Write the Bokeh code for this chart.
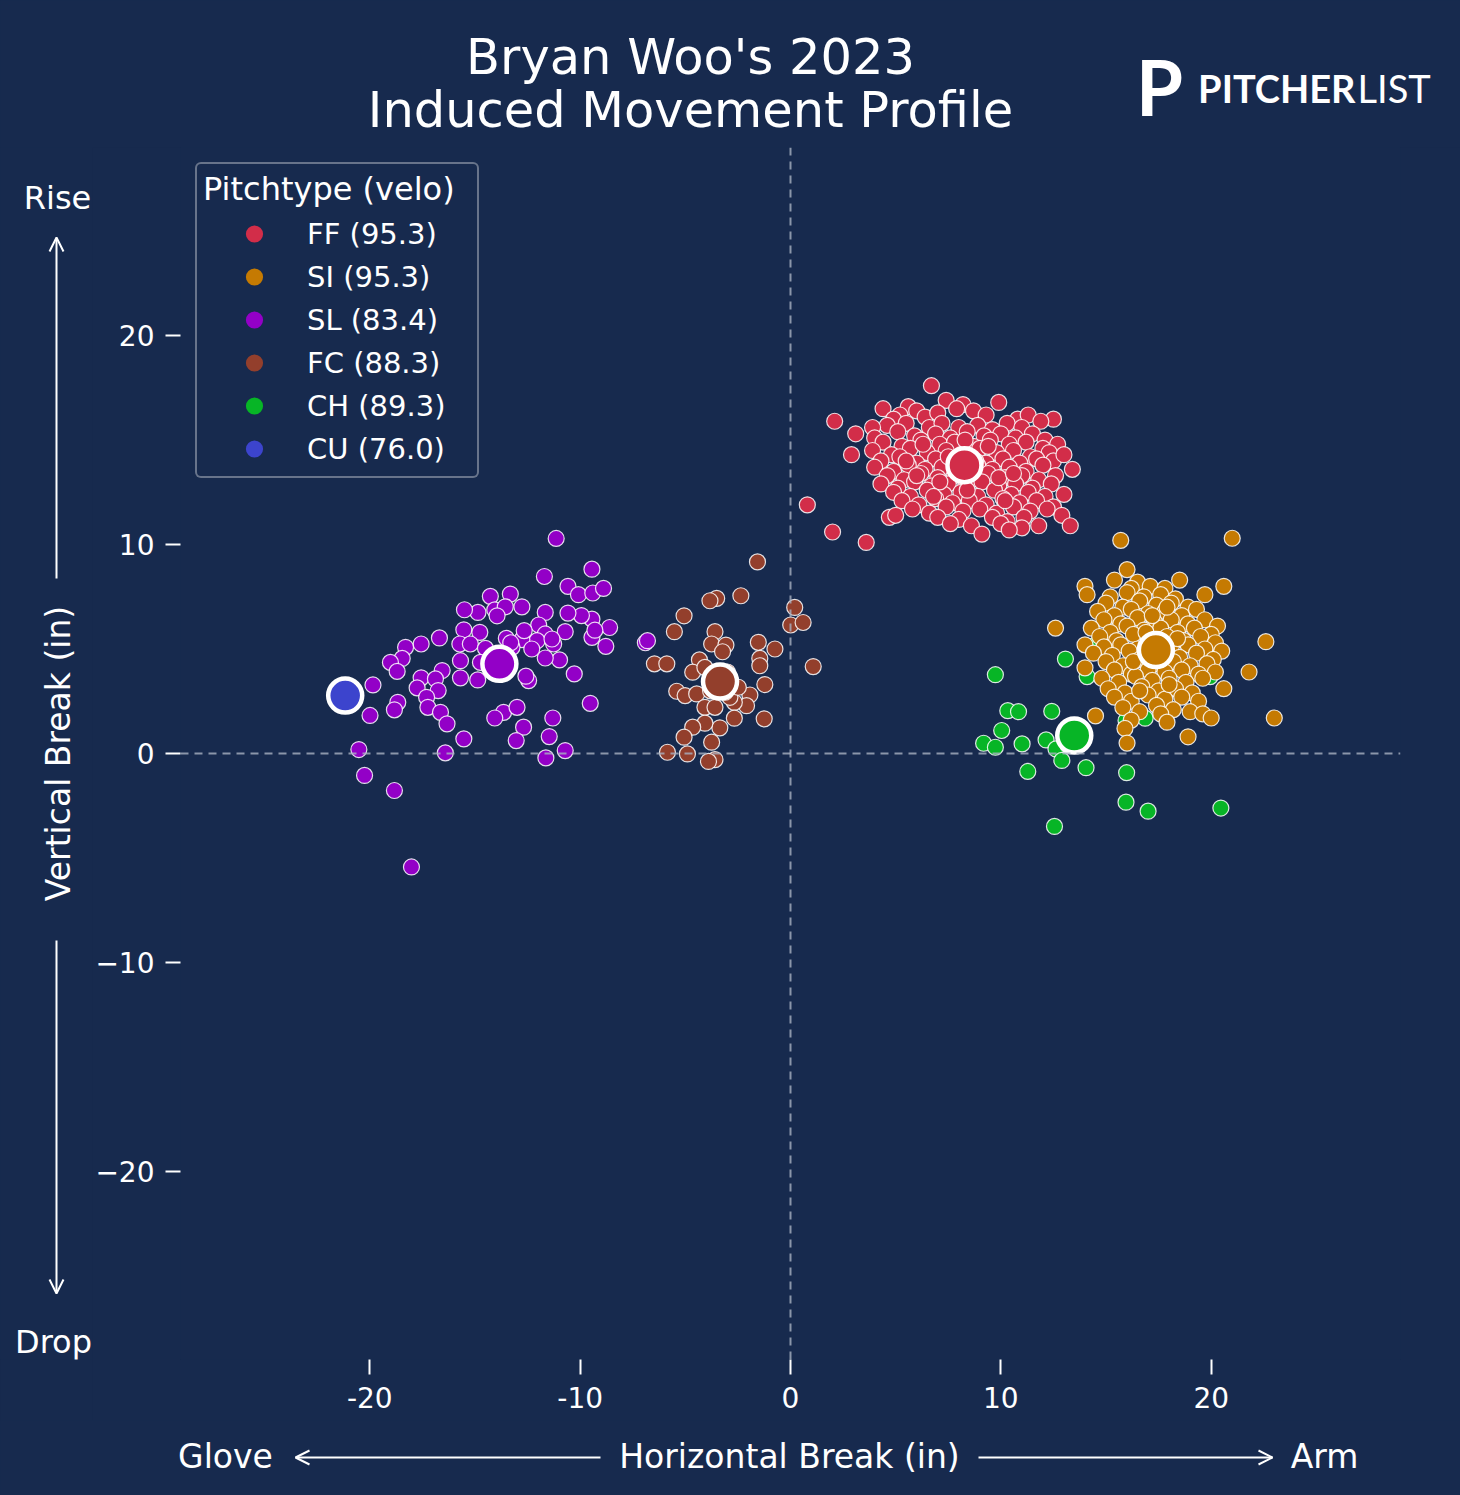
import numpy as np
from bokeh.plotting import figure
from bokeh.layouts import column, row
from bokeh.models import (Span, Label, Arrow, OpenHead, Legend, LegendItem,
                          FixedTicker, Range1d)
from bokeh.embed import file_html
from bokeh.resources import INLINE

BG = "#172a4e"
FONT = "DejaVu Sans"

# ---------------- data (inches) ----------------
ff_x = [6.7, 7.4, 9.9, 8.2, 4.4, 5.6, 6.0, 7.9, 8.7, 5.2, 6.4, 7.0, 9.3, 10.8, 11.3, 12.5, 2.1, 4.9, 11.9,
        4.6, 5.5, 6.6, 7.2, 8.0, 8.9, 9.6, 10.3, 11.0, 3.9,
        3.1, 4.0, 5.1, 5.9, 6.9, 7.6, 8.4, 9.2, 10.0, 10.7, 11.5, 12.1,
        4.4, 5.3, 6.2, 7.1, 7.8, 8.7, 9.5, 10.4, 11.2, 12.0, 12.7,
        3.9, 4.8, 5.7, 6.5, 7.4, 8.1, 9.0, 9.8, 10.6, 11.4, 12.3, 2.9,
        4.3, 5.2, 6.0, 6.9, 7.7, 8.5, 9.3, 10.1, 10.9, 11.7, 12.5, 13.0,
        4.0, 4.9, 5.6, 6.4, 7.2, 8.0, 8.9, 9.6, 10.4, 11.2, 12.0, 13.4,
        4.6, 5.4, 6.2, 7.0, 7.8, 8.6, 9.4, 10.2, 11.0, 11.8, 12.6,
        4.3, 5.1, 5.9, 6.7, 7.5, 8.3, 9.1, 9.9, 10.7, 11.5, 12.4,
        4.9, 5.7, 6.5, 7.3, 8.1, 8.9, 9.7, 10.5, 11.3, 12.1, 13.0,
        5.3, 6.1, 6.9, 7.7, 8.5, 9.3, 10.1, 10.9, 11.7, 12.5,
        5.8, 6.6, 7.4, 8.2, 9.0, 9.8, 10.6, 11.4, 12.2,
        4.7, 5.0, 7.0, 8.0, 9.6, 10.3, 11.1, 12.9,
        7.6, 8.6, 10.0, 11.0, 11.8, 13.3, 9.1, 10.4, 0.8, 2.0, 3.6,
        6.3, 7.5, 8.8, 9.9, 7.1, 8.4, 6.0, 9.4, 10.6, 5.5, 7.9, 8.3, 6.8, 10.2]
ff_y = [17.6, 16.9, 16.8, 16.7, 16.5, 16.6, 16.4, 16.5, 16.4, 16.2, 16.1, 16.3, 16.2, 16.0, 16.2, 16.0, 15.9, 16.0, 15.9,
        15.7, 15.8, 15.6, 15.8, 15.6, 15.7, 15.5, 15.8, 15.6, 15.6,
        15.3, 15.1, 15.4, 15.2, 15.3, 15.1, 15.4, 15.2, 15.3, 15.1, 15.3, 15.0,
        14.9, 14.7, 15.0, 14.8, 14.9, 14.7, 15.0, 14.8, 14.9, 14.6, 14.8,
        14.5, 14.3, 14.6, 14.4, 14.5, 14.3, 14.6, 14.4, 14.5, 14.2, 14.4, 14.3,
        14.0, 14.2, 13.9, 14.1, 14.0, 14.2, 13.9, 14.1, 13.9, 14.1, 14.0, 14.3,
        13.7, 13.5, 13.8, 13.6, 13.7, 13.5, 13.8, 13.6, 13.7, 13.5, 13.8, 13.6,
        13.3, 13.1, 13.4, 13.2, 13.3, 13.1, 13.4, 13.2, 13.3, 13.1, 13.3,
        12.9, 12.7, 13.0, 12.8, 12.9, 12.7, 13.0, 12.8, 12.9, 12.7, 12.9,
        12.5, 12.3, 12.6, 12.4, 12.5, 12.3, 12.6, 12.4, 12.5, 12.3, 12.4,
        12.1, 11.9, 12.2, 12.0, 12.1, 11.9, 12.2, 12.0, 12.1, 11.8,
        11.7, 11.5, 11.8, 11.6, 11.7, 11.5, 11.8, 11.6, 11.7,
        11.3, 11.4, 11.3, 11.2, 11.3, 11.1, 11.3, 11.4,
        11.0, 10.9, 11.0, 10.8, 10.9, 10.9, 10.5, 10.7, 11.9, 10.6, 10.1,
        14.8, 14.2, 14.0, 13.2, 13.0, 12.6, 13.3, 14.7, 13.4, 14.0, 13.9, 15.0, 12.3, 12.1]

si_x = [15.7, 21.0, 16.0, 15.4, 18.5, 16.5, 14.0, 20.6, 16.2, 17.1, 17.8,
        14.1, 15.2, 16.0, 16.8, 17.6, 18.3, 19.7,
        15.0, 15.8, 16.6, 17.4, 18.1, 18.9,
        14.6, 15.4, 16.2, 17.0, 17.8, 18.6, 19.3,
        14.9, 15.7, 16.5, 17.3, 18.1, 18.9, 19.7, 20.3,
        12.6, 14.3, 15.2, 16.0, 16.8, 17.6, 18.4, 19.2, 20.0,
        14.7, 15.5, 16.3, 17.1, 17.9, 18.7, 19.5, 20.2, 22.6,
        14.0, 14.9, 15.7, 16.5, 17.3, 18.1, 18.9, 19.7, 20.5,
        14.4, 15.3, 16.1, 16.9, 17.7, 18.5, 19.3, 20.1,
        15.0, 15.8, 16.6, 17.4, 18.2, 19.0, 19.8, 14.0, 21.8,
        15.4, 16.2, 17.0, 17.8, 18.6, 19.4, 20.2,
        14.8, 15.6, 16.4, 17.2, 18.0, 18.8, 19.6,
        15.1, 15.9, 16.7, 17.5, 18.3, 19.1, 20.6,
        15.4, 16.2, 17.0, 17.8, 18.6, 19.4,
        15.8, 16.6, 17.4, 18.2, 19.0, 17.6, 19.6,
        14.5, 20.0, 23.0, 16.2, 15.9, 18.9, 16.0, 17.9,
        16.9, 17.6, 18.4, 16.3, 17.2, 18.0, 16.6, 17.9]
si_y = [10.2, 10.3, 8.8, 8.3, 8.3, 8.2, 8.0, 8.0, 7.9, 8.0, 7.9,
        7.6, 7.5, 7.7, 7.5, 7.6, 7.4, 7.6,
        7.2, 7.0, 7.3, 7.1, 7.2, 7.0,
        6.8, 6.6, 6.9, 6.7, 6.8, 6.6, 6.9,
        6.4, 6.2, 6.5, 6.3, 6.4, 6.2, 6.4, 6.1,
        6.0, 6.0, 5.8, 6.1, 5.9, 6.0, 5.8, 6.0, 5.7,
        5.6, 5.4, 5.7, 5.5, 5.6, 5.4, 5.6, 5.3, 5.35,
        5.2, 5.1, 5.2, 5.0, 5.3, 5.1, 5.2, 5.0, 4.9,
        4.8, 4.7, 4.9, 4.6, 4.8, 4.6, 4.8, 4.5,
        4.4, 4.2, 4.5, 4.3, 4.4, 4.2, 4.3, 4.1, 3.9,
        4.0, 3.8, 4.0, 3.9, 4.0, 3.8, 3.9,
        3.6, 3.4, 3.7, 3.5, 3.6, 3.4, 3.6,
        3.1, 2.9, 3.2, 3.0, 3.1, 2.9, 3.1,
        2.7, 2.5, 2.8, 2.6, 2.7, 2.5,
        2.2, 2.0, 2.3, 2.1, 2.0, 1.9, 1.9,
        1.8, 1.7, 1.7, 1.6, 1.2, 0.8, 0.5, 1.5,
        5.8, 4.5, 5.5, 4.4, 6.6, 3.3, 3.0, 7.0]

sl_x = [-11.14, -9.44, -11.7, -10.58, -10.08, -9.4, -8.89, -8.6, -8.78, -9.44, -9.44, -9.94, -10.58, -10.71,
        -10.28, -9.52, -11.66, -11.97, -11.66, -11.26, -10.98, -11.66, -12.05, -12.77, -12.66, -13.51, -13.24,
        -12.45, -12.58, -12.77, -13.32, -14.27, -14.06, -13.56, -13.95, -14.86, -15.5, -15.53, -14.77, -15.72,
        -15.22, -14.5, -15.69, -14.74, -15.69, -14.87, -16.69, -17.56, -18.3, -18.46, -19.02, -18.7, -16.56,
        -17.56, -16.88, -17.75, -16.75, -17.3, -17.24, -16.64, -16.33, -15.53, -16.41, -18.67, -18.83, -19.85,
        -19.99, -20.52, -20.25, -18.83, -18.02, -13.64, -14.06, -13.0, -12.69, -13.04, -11.3, -11.47, -11.63,
        -10.71, -11.34, -13.3, -6.9, -6.8, -14.2, -12.3, -9.3]
sl_y = [10.29, 8.82, 8.47, 8.0, 7.6, 7.68, 7.9, 6.03, 5.13, 5.56, 6.43, 6.6, 6.72, 5.83,
        3.81, 2.4, 6.75, 6.15, 5.72, 5.24, 4.48, 4.57, 5.4, 5.45, 5.88, 5.51, 5.08,
        3.49, 3.7, 7.02, 7.63, 7.52, 6.87, 7.02, 6.59, 6.75, 6.88, 5.92, 5.8, 5.24,
        5.24, 5.03, 4.44, 4.36, 3.62, 3.52, 5.53, 5.24, 5.08, 4.55, 4.36, 3.93, 3.97,
        3.62, 3.57, 3.14, 3.01, 2.69, 2.21, 1.97, 1.42, 0.7, 0.03, 2.45, 2.09, 3.28,
        1.82, 0.19, -1.05, -1.77, -5.43, 1.97, 1.7, 2.21, 1.26, 0.62, 1.7, 0.81, -0.21,
        0.14, 5.48, 5.3, 5.3, 5.4, 4.6, 5.0, 5.9]

fc_x = [-1.57, -3.51, -3.83, -2.36, -5.06, -5.52, -3.59, -3.75, -3.07, -3.23, -1.53, -0.74, -1.46, -1.46,
        0.2, 0.01, 0.6, 1.08, -6.47, -5.88, -4.33, -4.65, -4.07, -5.41, -5.01, -4.46, -1.93, -2.09, -1.22,
        -2.67, -2.88, -4.07, -3.59, -2.67, -3.36, -4.07, -4.65, -1.25, -5.06, -3.75, -5.85, -4.9, -3.59,
        -3.9, -3.11, -2.48, -3.0, -3.8]
fc_y = [9.17, 7.42, 7.31, 7.55, 6.59, 5.83, 5.83, 5.24, 5.19, 4.87, 5.32, 5.0, 4.55, 4.2,
        6.99, 6.15, 6.27, 4.16, 4.29, 4.29, 4.48, 3.89, 4.12, 2.98, 2.77, 2.85, 2.8, 2.29, 3.3,
        2.45, 2.69, 2.21, 2.21, 1.69, 1.23, 1.45, 1.26, 1.66, 0.78, 0.54, 0.06, -0.02, -0.29,
        -0.38, 2.93, 3.17, 3.9, 3.0]

ch_x = [9.74, 13.07, 14.1, 10.33, 10.84, 12.42, 10.04, 9.18, 9.74, 11.01, 12.15, 12.62, 12.9, 11.28,
        14.05, 15.98, 15.95, 17.0, 20.46, 12.55, 16.86, 15.95, 19.95, 14.5, 13.2]
ch_y = [3.77, 4.52, 3.68, 2.05, 2.0, 2.02, 1.1, 0.49, 0.3, 0.46, 0.65, 0.22, -0.33, -0.86,
        -0.68, -0.92, -2.33, -2.76, -2.61, -3.49, 1.69, 1.58, 3.68, 5.2, 0.4]

cu_x = [-21.17]
cu_y = [2.77]

pitch_codes = ["FF", "SI", "SL", "FC", "CH", "CU"]
pitch_velo = ["95.3", "95.3", "83.4", "88.3", "89.3", "76.0"]
pitch_colors = ["#d22d49", "#c57a02", "#9300c7", "#933f2c", "#07b526", "#3c44cd"]
mean_x = [8.27, 17.37, -13.84, -3.35, 13.49, -21.17]
mean_y = [13.8, 4.95, 4.29, 3.44, 0.86, 2.77]

xticks = [-20, -10, 0, 10, 20]
yticks = [-20, -10, 0, 10, 20]

# ---------------- page geometry (px) ----------------
PAGE_W, PAGE_H = 1460, 1495
TOP_H = 147          # title band
LEFT_W = 92          # Rise / Drop band
FRAME_H = 1212
MAIN_H = 1273        # main plot height (frame + x-axis)
BOT_H = PAGE_H - TOP_H - MAIN_H
NAVY = {"background-color": BG}


def style_fig(f):
    f.background_fill_color = BG
    f.border_fill_color = BG
    f.outline_line_color = None
    f.grid.visible = False
    f.styles = NAVY


def band(width, height, x0, y0, span_h=None, bottom=0):
    """A blank figure whose data units are page pixels (y measured downward, stored negated)."""
    span_h = height if span_h is None else span_h
    f = figure(width=width, height=height, title=None,
               x_range=Range1d(x0, x0 + width), y_range=Range1d(-(y0 + span_h), -y0),
               x_axis_type=None, y_axis_type=None,
               output_backend="svg", toolbar_location=None,
               min_border=0, min_border_left=0, min_border_right=0,
               min_border_top=0, min_border_bottom=bottom)
    style_fig(f)
    return f


def lab(f, x, y, text, size, align="center", angle=0.0, style="normal", font=FONT):
    f.add_layout(Label(x=x, y=-y, text=text, text_color="white", text_font=font,
                       text_font_size=size, text_align=align, text_baseline="middle",
                       angle=angle, text_font_style=style))


def arrow(f, x0, y0, x1, y1):
    f.add_layout(Arrow(end=OpenHead(size=14, line_color="white", line_width=2),
                       x_start=x0, y_start=-y0, x_end=x1, y_end=-y1,
                       line_color="white", line_width=2))


# ---------------- main figure ----------------
p = figure(width=PAGE_W - LEFT_W, height=MAIN_H, title=None,
           x_range=Range1d(-29, 29), y_range=Range1d(-29, 29),
           output_backend="svg", toolbar_location=None,
           min_border_left=178 - LEFT_W, min_border_right=60,
           min_border_top=0, min_border_bottom=MAIN_H - FRAME_H)
style_fig(p)

for ax, ticks in ((p.xaxis[0], xticks), (p.yaxis[0], yticks)):
    ax.ticker = FixedTicker(ticks=ticks)
    ax.axis_line_color = None
    ax.major_tick_line_color = "white"
    ax.major_tick_line_width = 2
    ax.major_tick_out = 15
    ax.major_tick_in = 0
    ax.minor_tick_line_color = None
    ax.major_label_text_color = "white"
    ax.major_label_text_font = FONT
    ax.major_label_text_font_size = "28px"
p.xaxis[0].major_label_standoff = 12
p.yaxis[0].major_label_standoff = 11
p.yaxis[0].major_label_overrides = {t: (("\u2212" + str(-t)) if t < 0 else str(t)) for t in yticks}
p.xaxis[0].major_label_overrides = {t: str(t) for t in xticks}

for dim in ("width", "height"):
    p.add_layout(Span(location=0, dimension=dim, line_color="#a9b1c2", line_alpha=0.8,
                      line_dash="8 6", line_width=2))

series = [(ch_x, ch_y, 4), (ff_x, ff_y, 0), (si_x, si_y, 1), (sl_x, sl_y, 2), (fc_x, fc_y, 3), (cu_x, cu_y, 5)]
for xs, ys, i in series:
    p.scatter(xs, ys, size=16, fill_color=pitch_colors[i], line_color="white",
              line_width=1.2, line_alpha=0.85)

for i in range(len(pitch_codes)):
    p.scatter([mean_x[i]], [mean_y[i]], size=34, fill_color=pitch_colors[i],
              line_color="white", line_width=4.5)

items = []
for i, code in enumerate(pitch_codes):
    r = p.scatter([np.nan], [np.nan], size=18, fill_color=pitch_colors[i], line_color=None)
    items.append(LegendItem(label=f"{code} ({pitch_velo[i]})", renderers=[r]))
legend = Legend(items=items, location="top_left", margin=15,
                title="Pitchtype (velo)", title_text_color="white", title_text_font=FONT,
                title_text_font_size="32px", title_text_font_style="normal", title_standoff=4,
                label_text_color="white", label_text_font=FONT, label_text_font_size="29px",
                glyph_width=102, glyph_height=43, label_standoff=2, label_width=164,
                spacing=0, padding=6,
                background_fill_color=BG, background_fill_alpha=1.0,
                border_line_color="#b9bec8", border_line_width=2)
try:
    legend.border_radius = 6
except Exception:
    pass
p.add_layout(legend)

# ---------------- title band ----------------
top = band(PAGE_W, TOP_H, 0, 0)
lab(top, 690, 56, "Bryan Woo's 2023", "49.5px")
lab(top, 690, 109, "Induced Movement Profile", "49.5px")
lab(top, 1159, 86, "P", "76px", style="bold", font="Lato")
lab(top, 1355, 87, "PITCHER", "38px", align="right", style="bold", font="Lato")
lab(top, 1357, 87, "LIST", "38px", align="left", font="Lato")

# ---------------- left band (frame aligned with the main plot frame) ----------------
left = band(LEFT_W, MAIN_H, 0, TOP_H, span_h=FRAME_H, bottom=MAIN_H - FRAME_H)
lab(left, 57, 197, "Rise", "32px")
lab(left, 58, 753, "Vertical Break (in)", "33px", angle=np.pi / 2)
lab(left, 53, 1341, "Drop", "32px")
arrow(left, 56, 578, 56, 237)
arrow(left, 56, 940, 56, 1293)

# ---------------- bottom band ----------------
bot = band(PAGE_W, BOT_H, 0, TOP_H + MAIN_H)
lab(bot, 225, 1456, "Glove", "33px")
lab(bot, 789, 1456, "Horizontal Break (in)", "33px")
lab(bot, 1324, 1456, "Arm", "33px")
arrow(bot, 600, 1457, 295, 1457)
arrow(bot, 978, 1457, 1272, 1457)

middle = row(left, p, spacing=0)
middle.styles = NAVY
page = column(top, middle, bot, spacing=0)
page.styles = NAVY
open("out.html", "w").write(file_html(page, INLINE))
